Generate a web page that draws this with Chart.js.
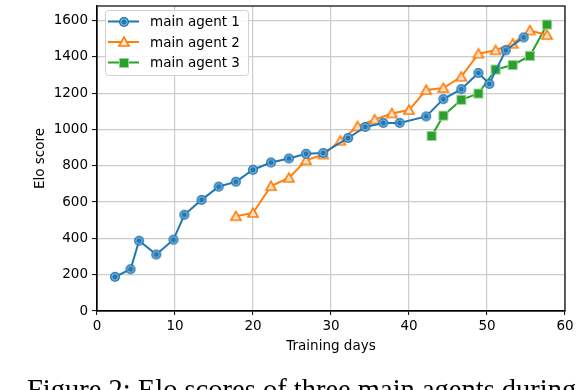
<!DOCTYPE html>
<html>
<head>
<meta charset="utf-8">
<script src="https://cdn.jsdelivr.net/npm/chart.js@4"></script>
<style>
  html, body { margin: 0; padding: 0; background: #fff; overflow: hidden; }
  canvas { display: block; }
</style>
</head>
<body>
<canvas id="eloChart" width="576" height="390"></canvas>
<script>
// training days and Elo values
const agent1Days = [2.3, 4.3, 5.4, 7.6, 9.8, 11.2, 13.4, 15.6, 17.8, 20.0, 22.3, 24.6, 26.8, 29.0,
                    32.2, 34.4, 36.7, 38.8, 42.2, 44.4, 46.7, 48.9, 50.3, 52.4, 54.7];
const agent1Elo = [188, 230, 387, 311, 393, 530, 612, 685, 712, 778, 818, 840, 866, 870,
                   953, 1014, 1036, 1036, 1072, 1167, 1222, 1311, 1251, 1436, 1507];

const agent2Days = [17.8, 20.0, 22.3, 24.6, 26.8, 29.0, 31.2, 33.4, 35.6, 37.8, 40.0, 42.2,
                    44.4, 46.7, 48.9, 51.1, 53.3, 55.5, 57.7];
const agent2Elo = [522, 540, 688, 733, 830, 862, 938, 1017, 1054, 1088, 1107, 1217,
                   1228, 1290, 1417, 1436, 1472, 1545, 1520];

const agent3Days = [42.9, 44.4, 46.7, 48.9, 51.1, 53.3, 55.5, 57.7];
const agent3Elo = [964, 1076, 1163, 1198, 1330, 1355, 1405, 1578];

const seriesNames = ['main agent 1', 'main agent 2', 'main agent 3'];
const xTicks = [0, 10, 20, 30, 40, 50, 60];
const yTicks = [0, 200, 400, 600, 800, 1000, 1200, 1400, 1600];
const captionText = 'Figure 2: Elo scores of three main agents during';

function toPoints(days, elo) {
    return days.map((d, i) => ({ x: d, y: elo[i] }));
}

const FONT = '"DejaVu Sans", sans-serif';

// small marker sprites (circle with light inner ring, hollow-ish triangle, square with light edge)
function sprite(size, draw) {
    const c = document.createElement('canvas');
    c.width = size;
    c.height = size;
    draw(c.getContext('2d'), size / 2);
    return c;
}

const blueDot = sprite(12, (g, m) => {
    g.fillStyle = '#1f77b4';
    g.beginPath(); g.arc(m, m, 5, 0, Math.PI * 2); g.fill();
    g.strokeStyle = '#9cc2e3';
    g.lineWidth = 1;
    g.beginPath(); g.arc(m, m, 3.2, 0, Math.PI * 2); g.stroke();
});

const orangeTri = sprite(14, (g, m) => {
    g.fillStyle = '#fde3cc';
    g.strokeStyle = '#ff7f0e';
    g.lineWidth = 1.7;
    g.beginPath();
    g.moveTo(m, m - 4.8);
    g.lineTo(m + 5, m + 4);
    g.lineTo(m - 5, m + 4);
    g.closePath();
    g.fill();
    g.stroke();
});

const greenSq = sprite(12, (g, m) => {
    g.fillStyle = '#2ca02c';
    g.fillRect(m - 5, m - 5, 10, 10);
    g.strokeStyle = '#94d394';
    g.lineWidth = 1;
    g.strokeRect(m - 4.5, m - 4.5, 9, 9);
});

const colors = ['#1f77b4', '#ff7f0e', '#2ca02c'];
const markers = [blueDot, orangeTri, greenSq];

// frame on all four sides + legend box inside the plot + caption
const extras = {
    id: 'extras',
    afterDraw(chart) {
        const ctx = chart.ctx;
        const a = chart.chartArea;
        ctx.save();
        ctx.strokeStyle = '#000';
        ctx.lineWidth = 1.2;
        ctx.strokeRect(a.left, a.top, a.right - a.left, a.bottom - a.top);

        // legend
        const bx = 105, by = 10, bw = 143, bh = 65;
        ctx.fillStyle = 'rgba(255,255,255,0.85)';
        ctx.strokeStyle = '#d0d0d0';
        ctx.lineWidth = 1;
        ctx.beginPath();
        ctx.roundRect(bx + 0.5, by + 0.5, bw, bh, 3);
        ctx.fill();
        ctx.stroke();
        ctx.font = '13.5px ' + FONT;
        ctx.textBaseline = 'middle';
        seriesNames.forEach((name, i) => {
            const y = 21.5 + i * 20.5;
            ctx.strokeStyle = colors[i];
            ctx.lineWidth = 2;
            ctx.beginPath();
            ctx.moveTo(108, y);
            ctx.lineTo(139, y);
            ctx.stroke();
            const m = markers[i];
            ctx.drawImage(m, Math.round(123.5 - m.width / 2), Math.round(y - m.height / 2));
            ctx.fillStyle = '#000';
            ctx.fillText(name, 150, y + 1);
        });

        // caption under the figure (cut off by the image edge)
        ctx.font = '28.5px "Liberation Serif", serif';
        ctx.textBaseline = 'alphabetic';
        ctx.fillStyle = '#000';
        ctx.fillText(captionText, 27, 399);
        ctx.restore();
    }
};

const allDays = [agent1Days, agent2Days, agent3Days];
const datasets = [agent1Elo, agent2Elo, agent3Elo].map((elo, i) => ({
    label: seriesNames[i],
    data: toPoints(allDays[i], elo),
    borderColor: colors[i],
    borderWidth: 2,
    backgroundColor: colors[i],
    pointStyle: markers[i],
    showLine: true,
    tension: 0,
    fill: false
}));

const plain = v => String(v);

new Chart(document.getElementById('eloChart').getContext('2d'), {
    type: 'scatter',
    data: { datasets },
    options: {
        responsive: false,
        animation: false,
        devicePixelRatio: 1,
        layout: { padding: { left: 0, top: 4, right: 11, bottom: 34 } },
        plugins: {
            legend: { display: false },
            tooltip: { enabled: false }
        },
        scales: {
            x: {
                type: 'linear',
                min: 0,
                max: 60,
                afterBuildTicks: s => { s.ticks = xTicks.map(v => ({ value: v })); },
                afterFit: s => { s.height = 45; s.paddingLeft = 0; s.paddingRight = 0; },
                grid: { color: '#cccccc', lineWidth: 1.2, tickColor: '#000', tickLength: 4, tickWidth: 1 },
                border: { display: true, color: '#000', width: 1.2 },
                ticks: { color: '#000', font: { family: FONT, size: 13.5 }, padding: 3, maxRotation: 0, callback: plain },
                title: {
                    display: true, text: 'Training days', color: '#000',
                    font: { family: FONT, size: 13.5, lineHeight: 1.2 },
                    padding: { top: 0, bottom: 1 }
                }
            },
            y: {
                type: 'linear',
                min: 0,
                max: 1680,
                afterBuildTicks: s => { s.ticks = yTicks.map(v => ({ value: v })); },
                afterFit: s => { s.width = 97; s.paddingTop = 0; s.paddingBottom = 0; },
                grid: { color: '#cccccc', lineWidth: 1.2, tickColor: '#000', tickLength: 5, tickWidth: 1 },
                border: { display: true, color: '#000', width: 1.2 },
                ticks: { color: '#000', font: { family: FONT, size: 13.5 }, padding: 4, callback: plain },
                title: {
                    display: true, text: 'Elo score', color: '#000',
                    font: { family: FONT, size: 13.5, lineHeight: 1.2 },
                    padding: { top: 32, bottom: 0 }
                }
            }
        }
    },
    plugins: [extras]
});
</script>
</body>
</html>
